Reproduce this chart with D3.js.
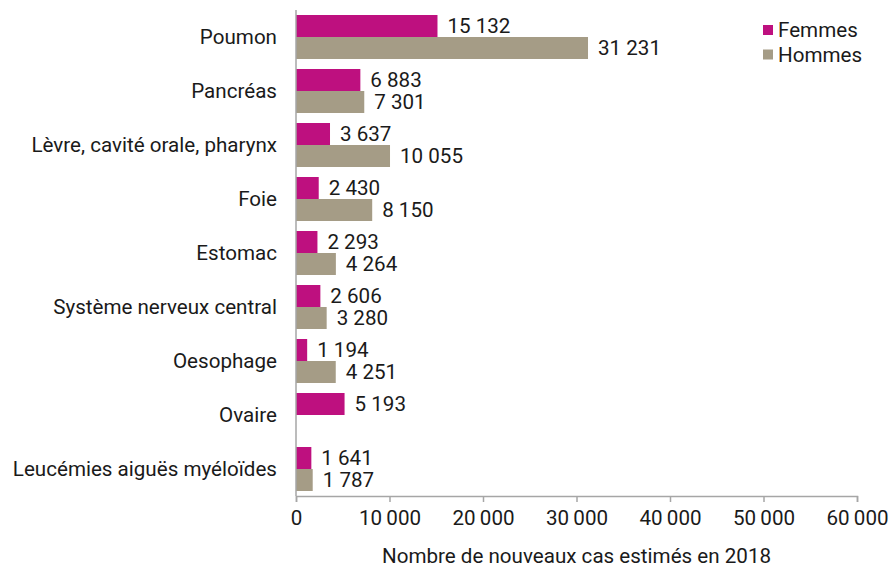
<!DOCTYPE html>
<html><head><meta charset="utf-8">
<script src="https://cdn.jsdelivr.net/npm/d3@7"></script>
<style>body{margin:0;background:#fff}svg{display:block}text{font-family:Roboto,sans-serif;fill:#1a1a1a}</style>
</head><body><svg id="c" width="892" height="568"></svg>
<script>
const categories = ["Poumon","Pancréas","Lèvre, cavité orale, pharynx","Foie","Estomac","Système nerveux central","Oesophage","Ovaire","Leucémies aiguës myéloïdes"];
const femmes = [15132,6883,3637,2430,2293,2606,1194,5193,1641];
const hommes = [31231,7301,10055,8150,4264,3280,4251,null,1787];
const seriesNames = ["Femmes","Hommes"];
const colors = ["#BE107F","#A59C86"];
const xTicks = [0,10000,20000,30000,40000,50000,60000];
const axisTitle = "Nombre de nouveaux cas estimés en 2018";

const svg = d3.select("#c");
const fs = 20.6;
const x = d3.scaleLinear().domain([0,60000]).range([296,857]);
const y = d3.scaleBand().domain(categories).range([10,496]).paddingInner(10/54).paddingOuter(5/54);
const y1 = d3.scaleBand().domain(seriesNames).range([0,y.bandwidth()]);
const loc = d3.formatLocale({decimal:",",thousands:"\u2009",grouping:[3],currency:["","€"]});
const fmt = loc.format(",d");

const data = [];
categories.forEach((c,i)=>{
  [femmes[i],hommes[i]].forEach((v,j)=>{ if(v!=null) data.push({c,s:seriesNames[j],v,j}); });
});
const g = svg.append("g");
g.selectAll("rect").data(data).join("rect")
  .attr("x",x(0)).attr("y",d=>y(d.c)+y1(d.s)).attr("width",d=>x(d.v)-x(0)).attr("height",y1.bandwidth())
  .attr("fill",d=>colors[d.j]);
g.selectAll("text.val").data(data).join("text").attr("class","val")
  .attr("x",d=>x(d.v)+10).attr("y",d=>y(d.c)+y1(d.s)+y1.bandwidth()/2).attr("dy","0.35em")
  .attr("font-size",fs).text(d=>fmt(d.v).replace("\u2009"," "));

svg.selectAll("text.cat").data(categories).join("text").attr("class","cat")
  .attr("x",277).attr("y",d=>y(d)+y.bandwidth()/2).attr("dy","0.35em").attr("text-anchor","end")
  .attr("font-size",fs).text(d=>d);

const axisColor="#a6a6a6";
svg.append("line").attr("x1",x(0)).attr("x2",x(0)).attr("y1",10).attr("y2",496).attr("stroke",axisColor).attr("stroke-width",1.5);
const xa = svg.append("g").attr("transform","translate(0,496)")
  .call(d3.axisBottom(x).tickValues(xTicks).tickSize(6).tickPadding(8).tickFormat(d=>loc.format(",d")(d)));
xa.select(".domain").attr("stroke",axisColor).attr("stroke-width",1.5);
xa.selectAll(".tick line").attr("stroke",axisColor).attr("stroke-width",1.5);
xa.selectAll(".tick text").attr("font-size",fs).attr("font-family","Roboto").attr("fill","#1a1a1a");

svg.append("text").attr("x",(296+857)/2).attr("y",556).attr("dy","0.35em").attr("text-anchor","middle").attr("font-size",fs).text(axisTitle);

const lg = svg.append("g");
seriesNames.forEach((s,i)=>{
  lg.append("rect").attr("x",763).attr("y",25+i*24.5).attr("width",10).attr("height",10).attr("fill",colors[i]);
  lg.append("text").attr("x",778).attr("y",30+i*24.5).attr("dy","0.35em").attr("font-size",fs).text(s);
});
</script></body></html>
